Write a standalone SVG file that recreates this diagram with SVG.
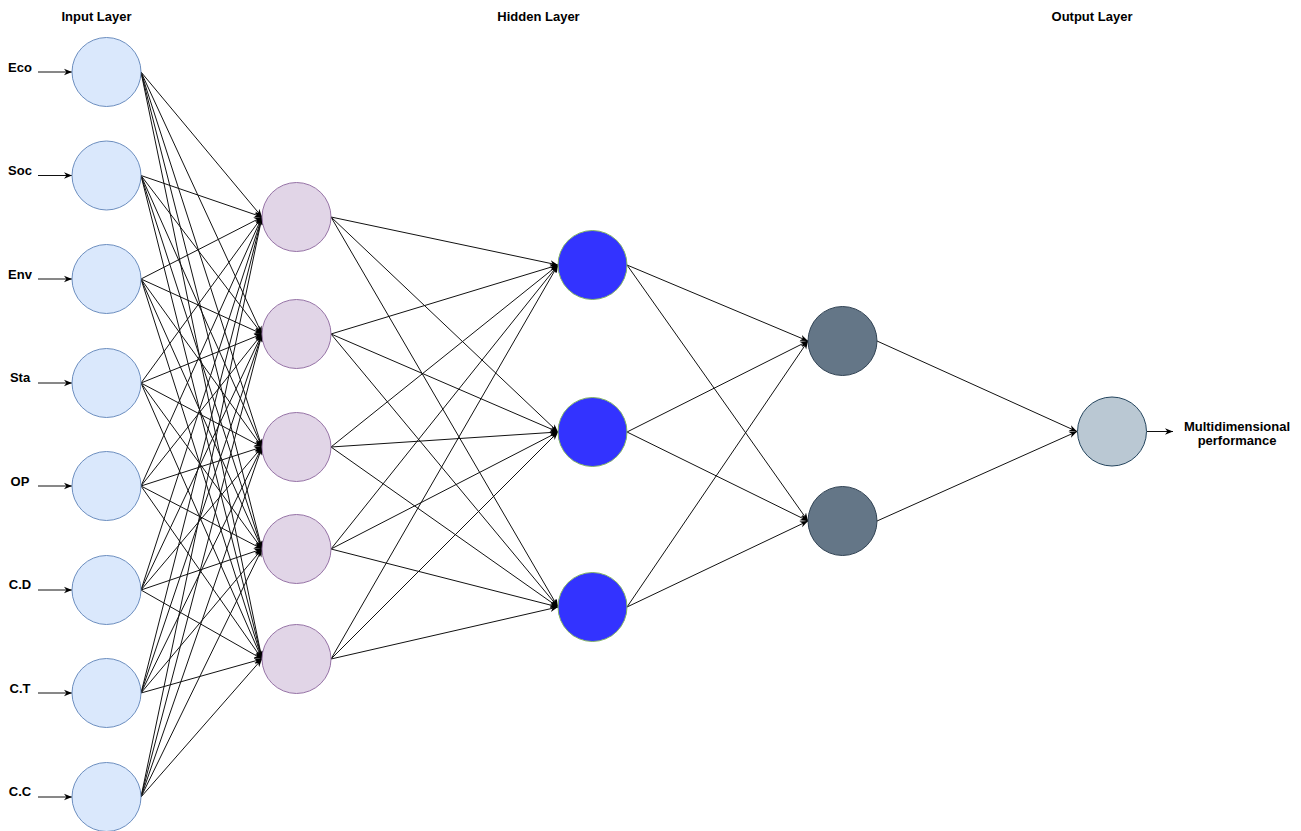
<svg xmlns="http://www.w3.org/2000/svg" width="1301" height="831" viewBox="0 0 1301 831">
  <style>
    .t { font-family: "Liberation Sans", Arial, Helvetica, sans-serif; font-size: 13px; font-weight: bold; fill: #000; }
    .e line { stroke: #111; stroke-width: 1; marker-end: url(#ah); }
    .in { fill: #dae8fc; stroke: #6c8ebf; stroke-width: 1; }
    .h1 { fill: #e1d5e7; stroke: #9673a6; stroke-width: 1; }
    .h2 { fill: #3333ff; stroke: #82b366; stroke-width: 1; }
    .h3 { fill: #647687; stroke: #314354; stroke-width: 1; }
    .out { fill: #bac8d3; stroke: #23445d; stroke-width: 1; }
  </style>
  <defs>
    <marker id="ah" viewBox="0 0 10 10" refX="10" refY="5" markerWidth="8" markerHeight="8" markerUnits="userSpaceOnUse" orient="auto">
      <path d="M0,1 L10,5 L0,9 L3,5 z" fill="#000"/>
    </marker>
  </defs>
  <rect width="1301" height="831" fill="#fff"/>

  <!-- layer titles -->
  <g id="titles">
    <text class="t" x="96.5" y="21" text-anchor="middle">Input Layer</text>
    <text class="t" x="538.5" y="21" text-anchor="middle">Hidden Layer</text>
    <text class="t" x="1092" y="21" text-anchor="middle">Output Layer</text>
  </g>

  <!-- connectors -->
  <g id="connectors" class="e">
    <!-- input feeds -->
    <line x1="38" y1="72" x2="72" y2="72"/>
    <line x1="38" y1="175.5" x2="72" y2="175.5"/>
    <line x1="38" y1="279" x2="72" y2="279"/>
    <line x1="38" y1="383" x2="72" y2="383"/>
    <line x1="38" y1="486" x2="72" y2="486"/>
    <line x1="38" y1="590" x2="72" y2="590"/>
    <line x1="38" y1="693" x2="72" y2="693"/>
    <line x1="38" y1="797" x2="72" y2="797"/>

    <!-- input layer to first hidden layer -->
    <line x1="141" y1="72" x2="262" y2="217"/>
    <line x1="141" y1="72" x2="262" y2="334"/>
    <line x1="141" y1="72" x2="262" y2="447"/>
    <line x1="141" y1="72" x2="262" y2="549"/>
    <line x1="141" y1="72" x2="262" y2="659"/>
    <line x1="141" y1="175.5" x2="262" y2="217"/>
    <line x1="141" y1="175.5" x2="262" y2="334"/>
    <line x1="141" y1="175.5" x2="262" y2="447"/>
    <line x1="141" y1="175.5" x2="262" y2="549"/>
    <line x1="141" y1="175.5" x2="262" y2="659"/>
    <line x1="141" y1="279" x2="262" y2="217"/>
    <line x1="141" y1="279" x2="262" y2="334"/>
    <line x1="141" y1="279" x2="262" y2="447"/>
    <line x1="141" y1="279" x2="262" y2="549"/>
    <line x1="141" y1="279" x2="262" y2="659"/>
    <line x1="141" y1="383" x2="262" y2="217"/>
    <line x1="141" y1="383" x2="262" y2="334"/>
    <line x1="141" y1="383" x2="262" y2="447"/>
    <line x1="141" y1="383" x2="262" y2="549"/>
    <line x1="141" y1="383" x2="262" y2="659"/>
    <line x1="141" y1="486" x2="262" y2="217"/>
    <line x1="141" y1="486" x2="262" y2="334"/>
    <line x1="141" y1="486" x2="262" y2="447"/>
    <line x1="141" y1="486" x2="262" y2="549"/>
    <line x1="141" y1="486" x2="262" y2="659"/>
    <line x1="141" y1="590" x2="262" y2="217"/>
    <line x1="141" y1="590" x2="262" y2="334"/>
    <line x1="141" y1="590" x2="262" y2="447"/>
    <line x1="141" y1="590" x2="262" y2="549"/>
    <line x1="141" y1="590" x2="262" y2="659"/>
    <line x1="141" y1="693" x2="262" y2="217"/>
    <line x1="141" y1="693" x2="262" y2="334"/>
    <line x1="141" y1="693" x2="262" y2="447"/>
    <line x1="141" y1="693" x2="262" y2="549"/>
    <line x1="141" y1="693" x2="262" y2="659"/>
    <line x1="141" y1="797" x2="262" y2="217"/>
    <line x1="141" y1="797" x2="262" y2="334"/>
    <line x1="141" y1="797" x2="262" y2="447"/>
    <line x1="141" y1="797" x2="262" y2="549"/>
    <line x1="141" y1="797" x2="262" y2="659"/>

    <!-- first hidden to second hidden -->
    <line x1="331" y1="217" x2="558" y2="265"/>
    <line x1="331" y1="217" x2="558" y2="432"/>
    <line x1="331" y1="217" x2="558" y2="607"/>
    <line x1="331" y1="334" x2="558" y2="265"/>
    <line x1="331" y1="334" x2="558" y2="432"/>
    <line x1="331" y1="334" x2="558" y2="607"/>
    <line x1="331" y1="447" x2="558" y2="265"/>
    <line x1="331" y1="447" x2="558" y2="432"/>
    <line x1="331" y1="447" x2="558" y2="607"/>
    <line x1="331" y1="549" x2="558" y2="265"/>
    <line x1="331" y1="549" x2="558" y2="432"/>
    <line x1="331" y1="549" x2="558" y2="607"/>
    <line x1="331" y1="659" x2="558" y2="265"/>
    <line x1="331" y1="659" x2="558" y2="432"/>
    <line x1="331" y1="659" x2="558" y2="607"/>

    <!-- second hidden to third hidden -->
    <line x1="627" y1="265" x2="808" y2="341"/>
    <line x1="627" y1="265" x2="808" y2="521"/>
    <line x1="627" y1="432" x2="808" y2="341"/>
    <line x1="627" y1="432" x2="808" y2="521"/>
    <line x1="627" y1="607" x2="808" y2="341"/>
    <line x1="627" y1="607" x2="808" y2="521"/>

    <!-- third hidden to output -->
    <line x1="877" y1="341" x2="1077" y2="431.5"/>
    <line x1="877" y1="521" x2="1077" y2="431.5"/>

    <!-- output result -->
    <line x1="1147" y1="431.5" x2="1173" y2="431.5"/>
  </g>

  <!-- input layer -->
  <g id="in-eco"><circle class="in" cx="106.5" cy="72" r="34.5"/><text class="t" x="20" y="72" text-anchor="middle">Eco</text></g>
  <g id="in-soc"><circle class="in" cx="106.5" cy="175.5" r="34.5"/><text class="t" x="20" y="175" text-anchor="middle">Soc</text></g>
  <g id="in-env"><circle class="in" cx="106.5" cy="279" r="34.5"/><text class="t" x="20" y="279" text-anchor="middle">Env</text></g>
  <g id="in-sta"><circle class="in" cx="106.5" cy="383" r="34.5"/><text class="t" x="20" y="382" text-anchor="middle">Sta</text></g>
  <g id="in-op"><circle class="in" cx="106.5" cy="486" r="34.5"/><text class="t" x="20" y="486" text-anchor="middle">OP</text></g>
  <g id="in-cd"><circle class="in" cx="106.5" cy="590" r="34.5"/><text class="t" x="20" y="589" text-anchor="middle">C.D</text></g>
  <g id="in-ct"><circle class="in" cx="106.5" cy="693" r="34.5"/><text class="t" x="20" y="693" text-anchor="middle">C.T</text></g>
  <g id="in-cc"><circle class="in" cx="106.5" cy="797" r="34.5"/><text class="t" x="20" y="796" text-anchor="middle">C.C</text></g>

  <!-- first hidden layer -->
  <g id="h1-1"><circle class="h1" cx="296.5" cy="217" r="34.5"/></g>
  <g id="h1-2"><circle class="h1" cx="296.5" cy="334" r="34.5"/></g>
  <g id="h1-3"><circle class="h1" cx="296.5" cy="447" r="34.5"/></g>
  <g id="h1-4"><circle class="h1" cx="296.5" cy="549" r="34.5"/></g>
  <g id="h1-5"><circle class="h1" cx="296.5" cy="659" r="34.5"/></g>

  <!-- second hidden layer -->
  <g id="h2-1"><circle class="h2" cx="592.5" cy="265" r="34.5"/></g>
  <g id="h2-2"><circle class="h2" cx="592.5" cy="432" r="34.5"/></g>
  <g id="h2-3"><circle class="h2" cx="592.5" cy="607" r="34.5"/></g>

  <!-- third hidden layer -->
  <g id="h3-1"><circle class="h3" cx="842.5" cy="341" r="34.5"/></g>
  <g id="h3-2"><circle class="h3" cx="842.5" cy="521" r="34.5"/></g>

  <!-- output node -->
  <g id="out">
    <circle class="out" cx="1112" cy="431.5" r="34.5"/>
    <text class="t" x="1237" y="431" text-anchor="middle">Multidimensional</text>
    <text class="t" x="1237" y="445" text-anchor="middle">performance</text>
  </g>
</svg>
